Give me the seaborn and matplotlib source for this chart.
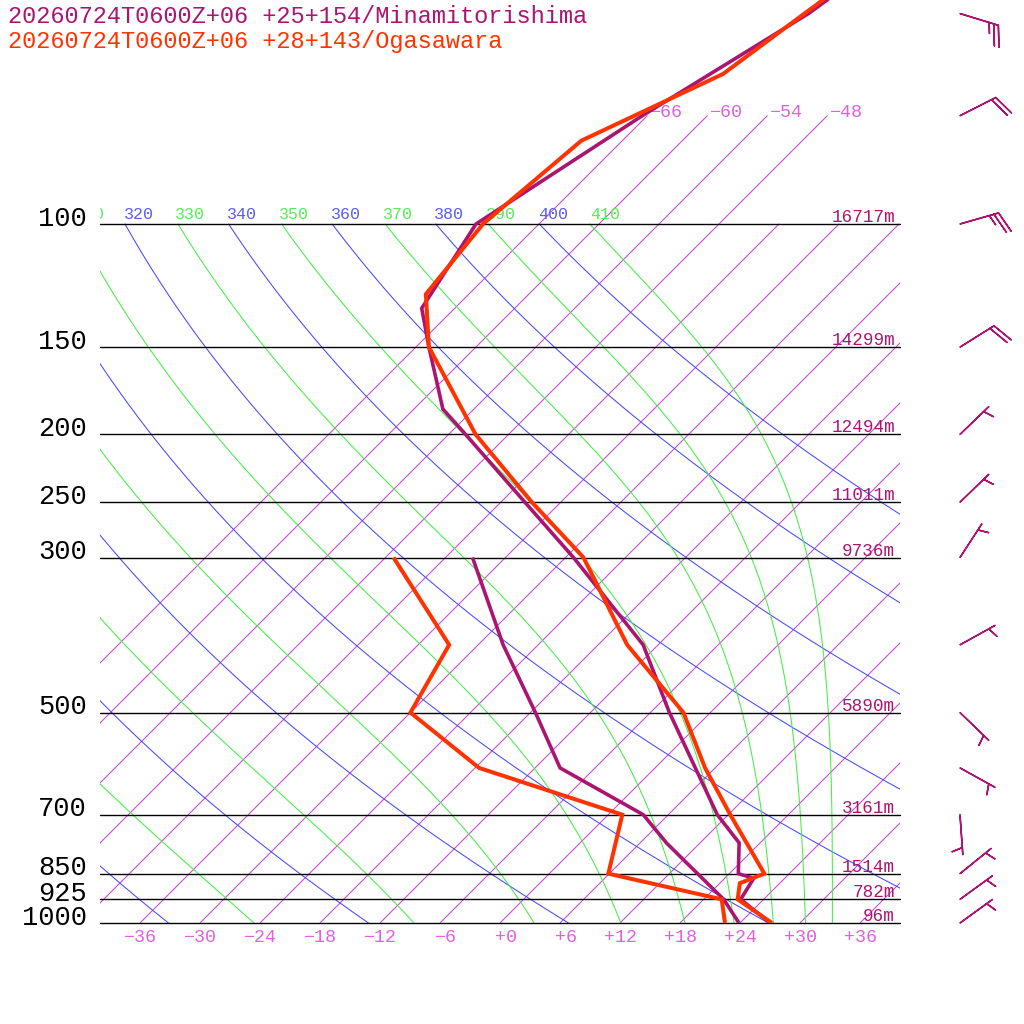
import numpy as np
import matplotlib
matplotlib.use("Agg")
import matplotlib.pyplot as plt
import seaborn as sns
from matplotlib.transforms import Affine2D, offset_copy

sns.set_theme(style="white")
plt.rcParams['font.family'] = ['Liberation Mono', 'DejaVu Sans Mono']

# ---------------- data ----------------
title_mina = "20260724T0600Z+06 +25+154/Minamitorishima"
title_oga = "20260724T0600Z+06 +28+143/Ogasawara"

mina_t_p = [1000, 925, 863, 850, 768, 700, 500, 400, 300, 250, 200, 184, 150, 132, 100, 70, 50, 30]
mina_t = [27.0, 21.7, 20.9, 18.9, 15.9, 10.9, -4.1, -13.5, -29.2, -39.6, -52.3, -57.1, -64.7, -69.3, -72.3, -66.5, -60.1, -54.3]
mina_td_p = [1000, 925, 769, 700, 600, 500, 400, 300]
mina_td = [23.9, 20.0, 8.7, 3.5, -9.5, -17.5, -27.5, -39.3]

oga_t_p = [1000, 925, 877, 850, 700, 600, 500, 400, 300, 250, 200, 150, 126, 100, 76, 61, 50, 30]
oga_t = [27.2, 21.4, 20.0, 21.5, 12.2, 5.0, -2.7, -15.1, -28.2, -38.9, -51.3, -64.7, -70.3, -71.6, -70.1, -62.6, -60.5, -54.9]
oga_td_p = [1000, 925, 850, 700, 600, 500, 400, 300]
oga_td = [22.5, 19.8, 5.9, 1.4, -17.6, -30.0, -32.9, -47.2]

std_levels = [100, 150, 200, 250, 300, 500, 700, 850, 925, 1000]
std_heights = ["16717m", "14299m", "12494m", "11011m", "9736m", "5890m", "3161m", "1514m", "782m", "96m"]

isotherms = list(range(-66, 37, 6))
isotherm_top_labelled = [-66, -60, -54, -48]
bottom_temps = list(range(-36, 37, 6))
dry_thetas = [240, 260, 280, 300, 320, 340, 360, 380, 400]
moist_thetaes = [250, 270, 290, 310, 330, 350, 370, 390, 410]
theta_labels_dry = [320, 340, 360, 380, 400]
theta_labels_moist = [310, 330, 350, 370, 390, 410]

wind_p = [50, 70, 100, 150, 200, 250, 300, 400, 500, 600, 700, 850, 925, 1000]
wind_dir = [107, 63, 74, 58, 46, 46, 33, 61, 134, 119, 176, 51, 54, 54]
wind_kt = [25, 20, 25, 20, 5, 5, 5, 5, 5, 5, 5, 5, 5, 5]

# ---------------- colours ----------------
C_MINA = "#ab1470"
C_OGA = "#ff3300"
C_ISO = "#cc44e0"
C_ISO_TXT = "#e060e0"
C_DRY = "#4848ff"
C_DRY_TXT = "#5a5aff"
C_MOIST = "#44ee44"
C_MOIST_TXT = "#55ee55"

# ---------------- figure ----------------
fig = plt.figure(figsize=(10.24, 10.24), dpi=100)
W, H = 1024.0, 1024.0
ax = fig.add_axes([100 / W, 101 / H, 800 / W, 923 / H])
P_TOP = 1000.0 / 10 ** (923.0 / 699.0)
ax.set_autoscale_on(False)
ax.set_yscale('log')
ax.set_ylim(1000, P_TOP)
ax.set_xlim(-40, 40)
ax.axis('off')

k = 923.0 / 800.0
skew = (ax.transData + ax.transAxes.inverted()
        + Affine2D(np.array([[1.0, k, 0.0], [0.0, 1.0, 0.0], [0.0, 0.0, 1.0]]))
        + ax.transAxes)

# isotherms
for t in isotherms:
    ptop = 70 if t in isotherm_top_labelled else 100
    ax.plot([t, t], [1000, ptop], color=C_ISO, lw=0.75, transform=skew, zorder=1)
    if t in isotherm_top_labelled:
        ax.text(t, ptop, "\u2212%d" % abs(t), color=C_ISO_TXT, fontsize=13.2,
                ha='left', va='baseline',
                transform=offset_copy(skew, fig, x=3, y=-1.5, units='dots'))

p_grid = np.logspace(3, 2, 240)

# dry adiabats
for th in dry_thetas:
    tt = th * (p_grid / 1000.0) ** 0.2857 - 273.15
    ax.plot(tt, p_grid, color=C_DRY, lw=0.75, transform=skew, zorder=2)


def theta_e_sat(tc, p):
    tk = tc + 273.15
    es = 6.112 * np.exp(17.67 * tc / (tc + 243.5))
    r = 622.0 * es / (p - es)
    return tk * (1000.0 / p) ** (0.2854 * (1 - 0.28e-3 * r)) * np.exp((3.376 / tk - 0.00254) * r * (1 + 0.81e-3 * r))


for the in moist_thetaes:
    lo = np.full_like(p_grid, -150.0)
    hi = np.full_like(p_grid, 40.0)
    for _ in range(60):
        mid = 0.5 * (lo + hi)
        f = theta_e_sat(mid, p_grid) - the
        hi = np.where(f > 0, mid, hi)
        lo = np.where(f > 0, lo, mid)
    ax.plot(0.5 * (lo + hi), p_grid, color=C_MOIST, lw=0.75, transform=skew, zorder=2)

# theta labels at 100 hPa
lab_tr = offset_copy(skew, fig, x=-1.5, y=5, units='dots')
for th in theta_labels_dry:
    t100 = th * 0.1 ** 0.2857 - 273.15
    ax.text(t100, 100, str(th), color=C_DRY_TXT, fontsize=12, ha='left', va='baseline',
            transform=lab_tr, clip_on=True)
for th in theta_labels_moist:
    t100 = th * 0.1 ** 0.2857 - 273.15
    ax.text(t100, 100, str(th), color=C_MOIST_TXT, fontsize=12, ha='left', va='baseline',
            transform=offset_copy(lab_tr, fig, x=(3 if th == 310 else 0), units='dots'), clip_on=True)

# pressure lines, labels, heights
ytr = ax.get_yaxis_transform()
for p, h in zip(std_levels, std_heights):
    ax.axhline(p, color='black', lw=1.0, zorder=3, clip_on=False)
    ax.text(-13 / 800.0, p, str(p), color='black', fontsize=19.5, ha='right', va='baseline',
            transform=offset_copy(ytr, fig, y=-1.5, units='dots'))
    ax.text(1 - 5 / 800.0, p, h, color=C_MINA, fontsize=12.7, ha='right', va='baseline',
            transform=offset_copy(ytr, fig, y=2, units='dots'))

# bottom temperature labels
bot_tr = offset_copy(ax.transData, fig, x=17, y=-18.7, units='dots')
for t in bottom_temps:
    s = ("\u2212%d" % abs(t)) if t < 0 else ("+%d" % t)
    ax.text(t, 1000, s, color=C_ISO_TXT, fontsize=13.2, ha='right', va='baseline', transform=bot_tr)

# profiles
prof_kw = dict(transform=skew, solid_joinstyle='miter', solid_capstyle='butt')
ax.plot(mina_td, mina_td_p, color=C_MINA, lw=2.6, zorder=5, **prof_kw)
ax.plot(mina_t, mina_t_p, color=C_MINA, lw=2.6, zorder=5, **prof_kw)
ax.plot(oga_td, oga_td_p, color=C_OGA, lw=2.9, zorder=6, **prof_kw)
ax.plot(oga_t, oga_t_p, color=C_OGA, lw=2.9, zorder=6, **prof_kw)

# wind barbs
wd = np.deg2rad(np.array(wind_dir, dtype=float))
ws = np.array(wind_kt, dtype=float)
u = -ws * np.sin(wd)
v = -ws * np.cos(wd)
ax.barbs(np.full(len(wind_p), 860 / 800.0), np.array(wind_p, dtype=float), u, v,
         transform=ytr, length=7.6, color=C_MINA, linewidth=1.1, clip_on=False,
         sizes=dict(height=0.52, width=0.35, spacing=0.12), zorder=7)

# titles
fig.text(8 / W, 1 - 23 / H, title_mina, color=C_MINA, fontsize=17, ha='left', va='baseline')
fig.text(8 / W, 1 - 48 / H, title_oga, color=C_OGA, fontsize=17, ha='left', va='baseline')

fig.savefig("out.png", dpi=100, facecolor='white')
